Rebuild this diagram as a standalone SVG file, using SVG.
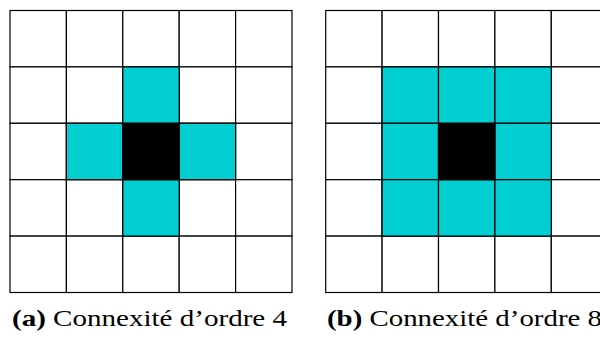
<svg xmlns="http://www.w3.org/2000/svg" width="600" height="340" viewBox="0 0 600 340">
<style>
.cell{fill:#ffffff;stroke:#000;stroke-width:1.2}
.n{fill:#00CED1;stroke:#000;stroke-width:1.2}
.c{fill:#000;stroke:#000;stroke-width:1.2}
.cap{font-family:"Liberation Serif","DejaVu Serif",serif;font-size:24px;fill:#000}
.b{font-weight:bold}
</style>
<rect width="600" height="340" fill="#fff"/>
<defs>
<g id="grid">
<rect class="cell" x="0" y="0" width="56.4" height="56.4"/><rect class="cell" x="56.4" y="0" width="56.4" height="56.4"/><rect class="cell" x="112.8" y="0" width="56.4" height="56.4"/><rect class="cell" x="169.2" y="0" width="56.4" height="56.4"/><rect class="cell" x="225.6" y="0" width="56.4" height="56.4"/>
<rect class="cell" x="0" y="56.4" width="56.4" height="56.4"/><rect class="cell" x="56.4" y="56.4" width="56.4" height="56.4"/><rect class="cell" x="112.8" y="56.4" width="56.4" height="56.4"/><rect class="cell" x="169.2" y="56.4" width="56.4" height="56.4"/><rect class="cell" x="225.6" y="56.4" width="56.4" height="56.4"/>
<rect class="cell" x="0" y="112.8" width="56.4" height="56.4"/><rect class="cell" x="56.4" y="112.8" width="56.4" height="56.4"/><rect class="cell" x="112.8" y="112.8" width="56.4" height="56.4"/><rect class="cell" x="169.2" y="112.8" width="56.4" height="56.4"/><rect class="cell" x="225.6" y="112.8" width="56.4" height="56.4"/>
<rect class="cell" x="0" y="169.2" width="56.4" height="56.4"/><rect class="cell" x="56.4" y="169.2" width="56.4" height="56.4"/><rect class="cell" x="112.8" y="169.2" width="56.4" height="56.4"/><rect class="cell" x="169.2" y="169.2" width="56.4" height="56.4"/><rect class="cell" x="225.6" y="169.2" width="56.4" height="56.4"/>
<rect class="cell" x="0" y="225.6" width="56.4" height="56.4"/><rect class="cell" x="56.4" y="225.6" width="56.4" height="56.4"/><rect class="cell" x="112.8" y="225.6" width="56.4" height="56.4"/><rect class="cell" x="169.2" y="225.6" width="56.4" height="56.4"/><rect class="cell" x="225.6" y="225.6" width="56.4" height="56.4"/>
</g>
</defs>
<g id="panel-a" transform="translate(10,10.5)">
<use href="#grid"/>
<rect class="n" x="112.8" y="56.4" width="56.4" height="56.4"/>
<rect class="n" x="56.4" y="112.8" width="56.4" height="56.4"/>
<rect class="n" x="169.2" y="112.8" width="56.4" height="56.4"/>
<rect class="n" x="112.8" y="169.2" width="56.4" height="56.4"/>
<rect class="c" x="112.8" y="112.8" width="56.4" height="56.4"/>
</g>
<g id="panel-b" transform="translate(325.7,10.5)">
<use href="#grid"/>
<rect class="n" x="56.4" y="56.4" width="56.4" height="56.4"/>
<rect class="n" x="112.8" y="56.4" width="56.4" height="56.4"/>
<rect class="n" x="169.2" y="56.4" width="56.4" height="56.4"/>
<rect class="n" x="56.4" y="112.8" width="56.4" height="56.4"/>
<rect class="n" x="169.2" y="112.8" width="56.4" height="56.4"/>
<rect class="n" x="56.4" y="169.2" width="56.4" height="56.4"/>
<rect class="n" x="112.8" y="169.2" width="56.4" height="56.4"/>
<rect class="n" x="169.2" y="169.2" width="56.4" height="56.4"/>
<rect class="c" x="112.8" y="112.8" width="56.4" height="56.4"/>
</g>
<g id="captions">
<text class="cap" x="12" y="326" textLength="275" lengthAdjust="spacingAndGlyphs"><tspan class="b">(a)</tspan> Connexité d’ordre 4</text>
<text class="cap" x="327" y="326" textLength="275" lengthAdjust="spacingAndGlyphs"><tspan class="b">(b)</tspan> Connexité d’ordre 8</text>
</g>
</svg>
